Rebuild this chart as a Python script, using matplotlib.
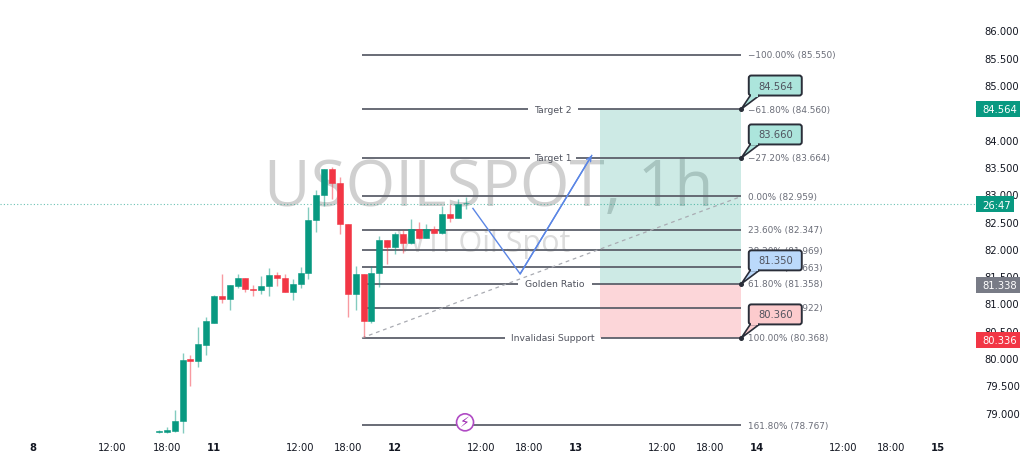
import matplotlib
matplotlib.use('Agg')
import matplotlib.pyplot as plt
from matplotlib.patches import Polygon, Rectangle, FancyBboxPatch
from matplotlib.transforms import IdentityTransform

# ohlc, x is bar number, 0 = first bar of the 12th
opens = [78.65, 78.64, 78.67, 78.85, 79.98, 79.94, 80.24, 80.65, 81.14, 81.08,
         81.31, 81.46, 81.27, 81.25, 81.31, 81.52, 81.47, 81.21, 81.36, 81.56,
         82.52, 82.98, 83.46, 83.20, 82.45, 81.17, 81.53, 80.67, 81.56, 82.16,
         82.04, 82.28, 82.10, 82.37, 82.20, 82.36, 82.29, 82.63, 82.56, 82.83]
highs = [78.68, 78.74, 79.05, 80.09, 80.06, 80.57, 80.76, 81.15, 81.53, 81.33,
         81.53, 81.46, 81.33, 81.51, 81.64, 81.58, 81.53, 81.44, 81.66, 82.77,
         83.07, 83.46, 83.50, 83.31, 82.46, 81.69, 81.53, 81.69, 82.23, 82.16,
         82.31, 82.35, 82.54, 82.49, 82.45, 82.42, 82.78, 82.82, 82.91, 82.95]
lows = [78.63, 78.63, 78.64, 78.63, 79.48, 79.83, 80.06, 80.65, 81.00, 80.87,
        81.29, 81.21, 81.14, 81.17, 81.14, 81.31, 81.21, 81.07, 81.29, 81.44,
        82.31, 82.78, 82.92, 82.28, 80.76, 80.87, 80.38, 80.64, 81.30, 81.73,
        81.90, 81.92, 82.09, 82.18, 82.19, 82.29, 82.27, 82.50, 82.56, 82.72]
closes = [78.66, 78.68, 78.85, 79.97, 79.94, 80.25, 80.67, 81.14, 81.08, 81.33,
          81.46, 81.26, 81.25, 81.31, 81.52, 81.46, 81.21, 81.36, 81.56, 82.52,
          82.98, 83.46, 83.20, 82.45, 81.17, 81.53, 80.67, 81.56, 82.16, 82.04,
          82.28, 82.11, 82.37, 82.20, 82.36, 82.29, 82.63, 82.56, 82.82, 82.84]
first_bar = -30

fib_prices = [85.550, 84.560, 83.664, 82.959, 82.347, 81.969, 81.663, 81.358, 80.922, 80.368, 78.767]
fib_labels = ['\u2212100.00% (85.550)', '\u221261.80% (84.560)', '\u221227.20% (83.664)', '0.00% (82.959)',
              '23.60% (82.347)', '38.20% (81.969)', '50.00% (81.663)', '61.80% (81.358)',
              '78.60% (80.922)', '100.00% (80.368)', '161.80% (78.767)']
fib_x0 = -4.2
fib_x1 = 44

# levels with a name on them, and where the line is broken for it
level_names = ['Target 2', 'Target 1', 'Golden Ratio', 'Invalidasi Support']
level_prices = [84.56, 83.664, 81.358, 80.368]
level_centers = [20.0, 20.0, 20.3, 20.1]
level_gaps = [(16.9, 23.2), (17.1, 23.0), (15.6, 25.0), (14.0, 26.2)]

y_ticks = [79, 79.5, 80, 80.5, 81, 81.5, 82, 82.5, 83, 83.5, 84, 84.5, 85, 85.5, 86]
x_ticks = [-46, -36, -29, -23, -12, -6, 0, 11, 17, 23, 34, 40, 46, 57, 63, 69]
x_labels = ['8', '12:00', '18:00', '11', '12:00', '18:00', '12', '12:00', '18:00', '13',
            '12:00', '18:00', '14', '12:00', '18:00', '15']

path_x = [9.9, 15.9, 25]
path_y = [82.74, 81.54, 83.71]

green = '#089981'
red = '#f23645'
line_col = '#5d606b'
text_col = '#6a6d78'

fig = plt.figure(figsize=(10.24, 4.64), dpi=100)
ax = fig.add_axes([0, 24 / 464, 975 / 1024, 440 / 464])
ax.set_xlim(-395 / 7.87, (975 - 395) / 7.87)
ax.set_ylim(80 - (440 - 359) / 54.6, 80 + 359 / 54.6)
for s in ax.spines.values():
    s.set_visible(False)

ax.set_yticks(y_ticks)
ax.set_yticklabels(['%.3f' % v for v in y_ticks])
ax.yaxis.tick_right()
ax.tick_params(axis='y', length=0, pad=7, labelsize=7.2, labelcolor='#131722')
ax.set_xticks(x_ticks)
ax.set_xticklabels(x_labels)
ax.tick_params(axis='x', length=0, pad=2.5, labelsize=7.2, labelcolor='#131722')
for lab in ax.get_xticklabels():
    if ':' not in lab.get_text():
        lab.set_fontweight('bold')

# watermark
ax.text(11.9, 83.12, 'USOILSPOT, 1h', fontsize=46, color='#d0d0d0', ha='center', va='center',
        family='Open Sans', zorder=0)
ax.text(11.3, 82.1, 'WTI Oil Spot', fontsize=22, color='#dcdcdc', ha='center', va='center',
        family='Open Sans', zorder=0)

# long / short boxes, see-through so the watermark shows
ax.add_patch(Rectangle((26, 81.358), fib_x1 - 26, 84.56 - 81.358, color=green, alpha=0.2, lw=0, zorder=1))
ax.add_patch(Rectangle((26, 80.368), fib_x1 - 26, 81.358 - 80.368, color=red, alpha=0.2, lw=0, zorder=1))

# current price line
ax.axhline(82.82, color=green, lw=0.8, ls=(0, (1, 2)), alpha=0.6, zorder=2)

# fib levels
for p, lab in zip(fib_prices, fib_labels):
    segs = [(fib_x0, fib_x1)]
    if p in level_prices:
        g = level_gaps[level_prices.index(p)]
        segs = [(fib_x0, g[0]), (g[1], fib_x1)]
    for a, b in segs:
        ax.plot([a, b], [p, p], color=line_col, lw=1.3, zorder=2, solid_capstyle='butt')
    ax.text(fib_x1 + 0.9, p, lab, fontsize=6.4, color=text_col, ha='left', va='center', zorder=3)
ax.plot([fib_x0, fib_x1], [80.368, 82.959], color='#a9abb2', lw=0.9, ls=(0, (3, 3)), zorder=2)

# names on the levels
for name, p, c in zip(level_names, level_prices, level_centers):
    ax.text(c, p, name, fontsize=6.7, color='#50535e', ha='center', va='center', zorder=3)

# candles
for i in range(len(opens)):
    x = first_bar + i
    col = green if closes[i] >= opens[i] else red
    ax.plot([x, x], [lows[i], highs[i]], color=col, lw=1, alpha=0.5, zorder=4, solid_capstyle='butt')
    lo = min(opens[i], closes[i])
    hi = max(opens[i], closes[i])
    ax.add_patch(Rectangle((x - 0.38, lo), 0.76, hi - lo, facecolor=col, edgecolor=col, lw=0.4, zorder=5))

# drawn path
ax.plot(path_x, path_y, color='#5b86e5', lw=1, zorder=6)
ax.annotate('', xy=(path_x[2], path_y[2]), xytext=(path_x[1], path_y[1]),
            arrowprops=dict(arrowstyle='->', color='#5b86e5', lw=1, mutation_scale=8, shrinkA=0, shrinkB=0),
            zorder=6)

# callouts
fig.canvas.draw()
callouts = [(84.56, '84.564', '#ace5dc'), (83.664, '83.660', '#ace5dc'),
            (81.358, '81.350', '#bbd9fb'), (80.368, '80.360', '#fccbcd')]
for p, lab, col in callouts:
    px, py = ax.transData.transform((fib_x1, p))
    ax.add_patch(FancyBboxPatch((px + 9, py + 15), 50, 17, boxstyle='round,pad=1.5,rounding_size=2.5',
                                facecolor=col, edgecolor='#2a2e39', lw=1.4,
                                transform=IdentityTransform(), zorder=8, clip_on=False))
    ax.add_patch(Polygon([(px, py), (px + 9, py + 13.5), (px + 18, py + 13.5)], closed=True,
                         facecolor=col, edgecolor='#2a2e39', lw=1.2,
                         transform=IdentityTransform(), zorder=8, clip_on=False))
    ax.add_patch(Rectangle((px + 10, py + 12.5), 7, 3.5, facecolor=col, edgecolor='none',
                           transform=IdentityTransform(), zorder=9, clip_on=False))
    ax.plot([fib_x1], [p], 'o', ms=2.6, color='#2a2e39', zorder=10, clip_on=False)
    ax.text(px + 34, py + 23.5, lab, fontsize=7.2, color='#50535e', ha='center', va='center',
            transform=IdentityTransform(), zorder=10)

# price pills on the scale
pills = [(84.564, '84.564', green, 44), (82.82, '26:47', green, 38),
         (81.338, '81.338', '#787b86', 44), (80.336, '80.336', red, 44)]
for p, lab, col, w in pills:
    px, py = ax.transData.transform((ax.get_xlim()[1], p))
    ax.add_patch(Rectangle((px + 1, py - 8), w, 16, facecolor=col, edgecolor='none',
                           transform=IdentityTransform(), zorder=11, clip_on=False))
    ax.text(px + 7.5, py - 0.5, lab, fontsize=7.2, color='white', ha='left', va='center',
            transform=IdentityTransform(), zorder=12)

# lightning marker
mx, my = ax.transData.transform((8.9, 78.767))
my += 3
ax.add_patch(plt.Circle((mx, my), 8.5, facecolor='white', edgecolor='#b04ac4', lw=1.2,
                        transform=IdentityTransform(), zorder=7))
ax.text(mx, my, '\u26a1', fontsize=10, color='#9c27b0', ha='center', va='center',
        transform=IdentityTransform(), zorder=8)

fig.savefig('out.png', dpi=100)
